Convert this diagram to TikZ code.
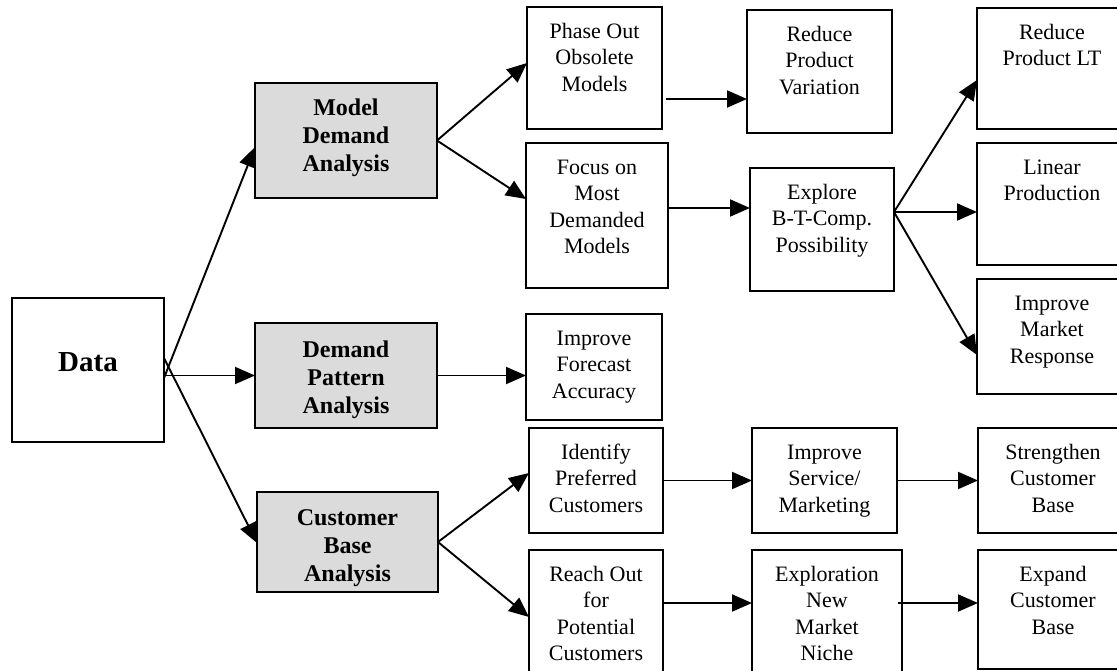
\documentclass[tikz,border=0pt]{standalone}
\usepackage{fontspec}
\setmainfont{Liberation Serif}
\usetikzlibrary{arrows.meta}

\newcommand{\celltext}[4][12.5pt]{\parbox[c][#3][t]{#2}{\centering\vspace*{#1}\strut#4}}

\tikzset{
  blk/.style={draw, line width=2pt, inner sep=0pt, outer sep=0pt, anchor=north west,
              font=\fontsize{22}{26.5}\selectfont},
  hub/.style={blk, fill=black!14, font=\fontsize{24}{28}\selectfont\bfseries},
  arr/.style={-{Triangle[length=20pt,width=17pt]}, line width=1.9pt}
}

\begin{document}
\begin{tikzpicture}[x=1pt,y=-1pt]
    \useasboundingbox (0,0) rectangle (1117,671);
    \clip (0,0) rectangle (1117,671);

    \node[blk, font=\fontsize{29}{34}\selectfont\bfseries] (data) at (12,298) {\celltext[50pt]{152pt}{144pt}{Data}};

    \node[hub] (mda) at (255,83)  {\celltext[12.5pt]{182pt}{115pt}{Model\\Demand\\Analysis}};
    \node[hub] (dpa) at (255,323) {\celltext[14.5pt]{182pt}{105pt}{Demand\\Pattern\\Analysis}};
    \node[hub] (cba) at (257,492) {\celltext[13.5pt]{181pt}{100pt}{Customer\\Base\\Analysis}};

    \node[blk] (phase)     at (527,7)   {\celltext{135pt}{122pt}{Phase Out\\Obsolete\\Models}};
    \node[blk] (variation) at (747,10)  {\celltext{145pt}{123pt}{Reduce\\Product\\Variation}};
    \node[blk] (focus)     at (526,143) {\celltext{142pt}{145pt}{Focus on\\Most\\Demanded\\Models}};
    \node[blk] (explore)   at (750,168) {\celltext{144pt}{123pt}{Explore\\B-T-Comp.\\Possibility}};
    \node[blk] (leadtime)  at (977,8)   {\celltext{150pt}{121pt}{Reduce\\Product LT}};
    \node[blk] (linear)    at (977,143) {\celltext{150pt}{122pt}{Linear\\Production}};
    \node[blk] (response)  at (977,279) {\celltext{150pt}{115pt}{Improve\\Market\\Response}};

    \node[blk] (forecast)  at (526,314) {\celltext{136pt}{106pt}{Improve\\Forecast\\Accuracy}};

    \node[blk] (identify)   at (529,428) {\celltext{134pt}{105pt}{Identify\\Preferred\\Customers}};
    \node[blk] (service)    at (752,428) {\celltext{145pt}{105pt}{Improve\\Service/\\Marketing}};
    \node[blk] (strengthen) at (978,428) {\celltext{150pt}{105pt}{Strengthen\\Customer\\Base}};
    \node[blk] (reach)      at (529,550) {\celltext{134pt}{140pt}{Reach Out\\for\\Potential\\Customers}};
    \node[blk] (niche)      at (752,550) {\celltext{150pt}{140pt}{Exploration\\New\\Market\\Niche}};
    \node[blk] (expand)     at (978,550) {\celltext{150pt}{119pt}{Expand\\Customer\\Base}};

    \draw[arr] ([yshift=-8pt]data.east) -- ([yshift=-6.5pt]mda.west);
    \draw[arr] (data.east |- dpa.west) -- (dpa.west);
    \draw[arr] ([yshift=12pt]data.east) -- ([yshift=-1pt]cba.west);

    \draw[arr] (mda.east) -- ([yshift=5pt]phase.west);
    \draw[arr] (mda.east) -- ([yshift=16.5pt]focus.west);
    \coordinate (pv) at ([xshift=4pt,yshift=-31pt]phase.east);
    \draw[arr] (pv) -- (pv -| variation.west);
    \coordinate (fe) at ([yshift=7.5pt]focus.east);
    \draw[arr] (fe) -- (fe -| explore.west);
    \coordinate (ex) at ([yshift=17.5pt]explore.east);
    \draw[arr] (ex) -- ([yshift=-11.5pt]leadtime.west);
    \draw[arr] (ex) -- (ex -| linear.west);
    \draw[arr] (ex) -- ([yshift=-18.5pt]response.west);

    \draw[arr] (dpa.east) -- (dpa.east -| forecast.west);

    \draw[arr] (cba.east) -- ([yshift=7.5pt]identify.west);
    \draw[arr] (cba.east) -- ([yshift=3pt]reach.west);
    \draw[arr] (identify.east) -- (service.west);
    \draw[arr] (service.east) -- (strengthen.west);
    \coordinate (rn) at ([yshift=17pt]reach.east);
    \draw[arr] (rn) -- (rn -| niche.west);
    \coordinate (ne) at ([xshift=-4pt,yshift=17pt]niche.east);
    \draw[arr] (ne) -- (ne -| expand.west);
\end{tikzpicture}
\end{document}
